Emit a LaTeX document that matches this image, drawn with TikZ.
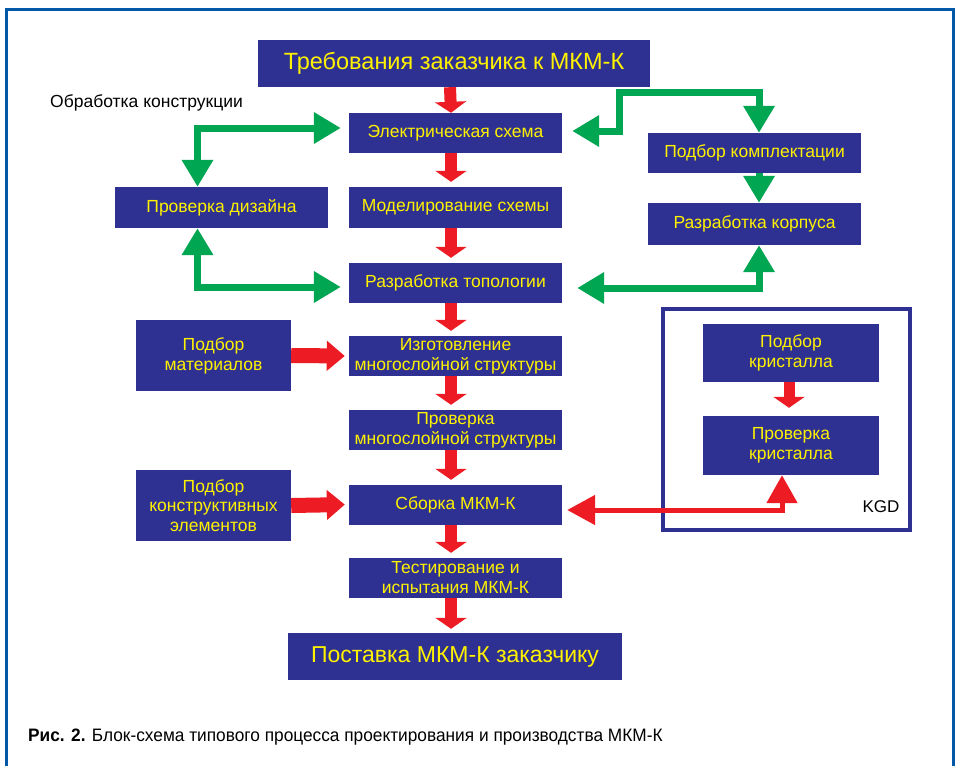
\documentclass[tikz,border=0pt]{standalone}
\usepackage{fontspec}
\setmainfont{Liberation Sans}
\newfontfamily\capfont[FakeStretch=0.96]{Liberation Sans}
\usetikzlibrary{arrows.meta}
\definecolor{navy}{HTML}{2E3192}
\definecolor{yel}{HTML}{FFF200}
\definecolor{ared}{HTML}{ED1C24}
\definecolor{agreen}{HTML}{00A651}
\definecolor{framec}{HTML}{0058A8}
\tikzset{
  box/.style={fill=navy, draw=none, text=yel, align=center, inner sep=0pt,
    minimum width=213pt, minimum height=40pt, font=\fontsize{17.5}{20}\selectfont},
  bigbox/.style={box, minimum width=#1, minimum height=47pt, font=\fontsize{23.5}{27}\selectfont},
  redv/.style={draw=ared, line width=12pt, -{Triangle[width=31pt,length=11pt]}},
  redh/.style={draw=ared, line width=15pt, -{Triangle[width=29pt,length=18pt]}},
  redthin/.style={draw=ared, line width=5pt, {Triangle[width=29pt,length=28pt]}-{Triangle[width=30pt,length=28pt]}},
  gtip/.tip={Triangle[width=30pt,length=27pt]},
  green2/.style={draw=agreen, line width=7pt, gtip-gtip},
  green1/.style={draw=agreen, line width=7pt, -gtip},
  lbl/.style={text=black, inner sep=0pt, font=\fontsize{17.5}{20}\selectfont}
}
\begin{document}
\begin{tikzpicture}[x=1pt,y=-1pt]
\useasboundingbox (0,0) rectangle (957,765);
\fill[white] (0,0) rectangle (957,765);
% outer frame
\draw[framec, line width=3pt] (6,790) -- (6,10) -- (953,10) -- (953,790);

% central column
\node[bigbox=392pt] (req) at (454,63.5) {Требования заказчика к МКМ-К};
\node[box] (el) at (455.5,133) {Электрическая схема};
\node[box, minimum height=41pt] (mod) at (455.5,207.5) {Моделирование схемы};
\node[box] (top) at (455.5,283) {Разработка топологии};
\node[box] (izg) at (455.5,356) {Изготовление\\многослойной структуры};
\node[box] (prov) at (455.5,430) {Проверка\\многослойной структуры};
\node[box] (sb) at (455.5,505) {Сборка МКМ-К};
\node[box] (test) at (455.5,578) {Тестирование и\\испытания МКМ-К};
\node[bigbox=334pt, font=\fontsize{23}{27}\selectfont] (post) at (455,656.5) {Поставка МКМ-К заказчику};

% left column
\node[lbl, anchor=west] (obr) at (50,103) {Обработка конструкции};
\node[box, minimum height=41pt] (diz) at (221.5,207.5) {Проверка дизайна};
\node[box, minimum width=155pt, minimum height=71pt] (mat) at (213.5,355.5) {Подбор\\материалов};
\node[box, minimum width=155pt, minimum height=71pt, font=\fontsize{17.5}{19.5}\selectfont] (kon) at (213.5,505.5) {Подбор\\конструктивных\\элементов};

% right column
\node[box] (kompl) at (754.5,153) {Подбор комплектации};
\node[box, minimum height=42pt] (korp) at (754.5,224) {Разработка корпуса};

% KGD frame
\node[draw=navy, line width=4pt, minimum width=247pt, minimum height=221pt, inner sep=0pt] (kgd) at (786.5,419.5) {};
\node[box, minimum width=176pt, minimum height=58pt] (kr1) at (791,353) {Подбор\\кристалла};
\node[box, minimum width=176pt, minimum height=59pt] (kr2) at (791,445.5) {Проверка\\кристалла};
\node[lbl, font=\fontsize{17}{20}\selectfont] (kgdl) at (881,507) {KGD};

% red vertical arrows
\draw[redv] ([xshift=-4pt]req.south) -- ([xshift=-4.5pt]el.north);
\draw[redv, shorten >=5pt] ([xshift=-4.5pt]el.south) -- ([xshift=-4.5pt]mod.north);
\draw[redv, shorten >=5pt] ([xshift=-4.5pt]mod.south) -- ([xshift=-4.5pt]top.north);
\draw[redv, shorten >=5pt] ([xshift=-4.5pt]top.south) -- ([xshift=-4.5pt]izg.north);
\draw[redv, shorten >=5pt] ([xshift=-4.5pt]izg.south) -- ([xshift=-4.5pt]prov.north);
\draw[redv, shorten >=5pt] ([xshift=-4.5pt]prov.south) -- ([xshift=-4.5pt]sb.north);
\draw[redv, shorten >=5pt] ([xshift=-4.5pt]sb.south) -- ([xshift=-4.5pt]test.north);
\draw[redv, shorten >=4pt] ([xshift=-4.5pt]test.south) -- ([xshift=-4pt]post.north);
\draw[redv, line width=11pt, shorten >=8pt] ([xshift=-2pt]kr1.south) -- ([xshift=-2pt]kr2.north);

% red horizontal arrows
\draw[redh, shorten >=4pt] (mat.east) -- (izg.west);
\draw[redh, shorten >=4pt] (kon.east) -- ([yshift=0.5pt]sb.west);
\draw[redthin, shorten <=5pt] ([yshift=-5pt]sb.east) -| ([xshift=-9pt]kr2.south);

% green arrows
\draw[green2, shorten <=8pt] ([yshift=5pt]el.west) -| ([xshift=-24pt]diz.north);
\draw[green2, shorten <=8pt] ([yshift=-4pt]top.west) -| ([xshift=-24pt]diz.south);
\draw[green2, shorten <=10pt] ([yshift=2pt]el.east) -| (619,93) -| ([xshift=4.5pt]kompl.north);
\draw[green1] ([xshift=4.5pt]kompl.south) -- ([xshift=4.5pt]korp.north);
\draw[green2, shorten <=15pt] ([yshift=-5pt]top.east) -| ([xshift=4.5pt]korp.south);

% caption
\node[anchor=west, inner sep=0pt, font=\capfont\fontsize{18}{21}\selectfont] (cap) at (28,737) {\textbf{Рис. 2.} Блок-схема типового процесса проектирования и производства МКМ-К};
\end{tikzpicture}
\end{document}
